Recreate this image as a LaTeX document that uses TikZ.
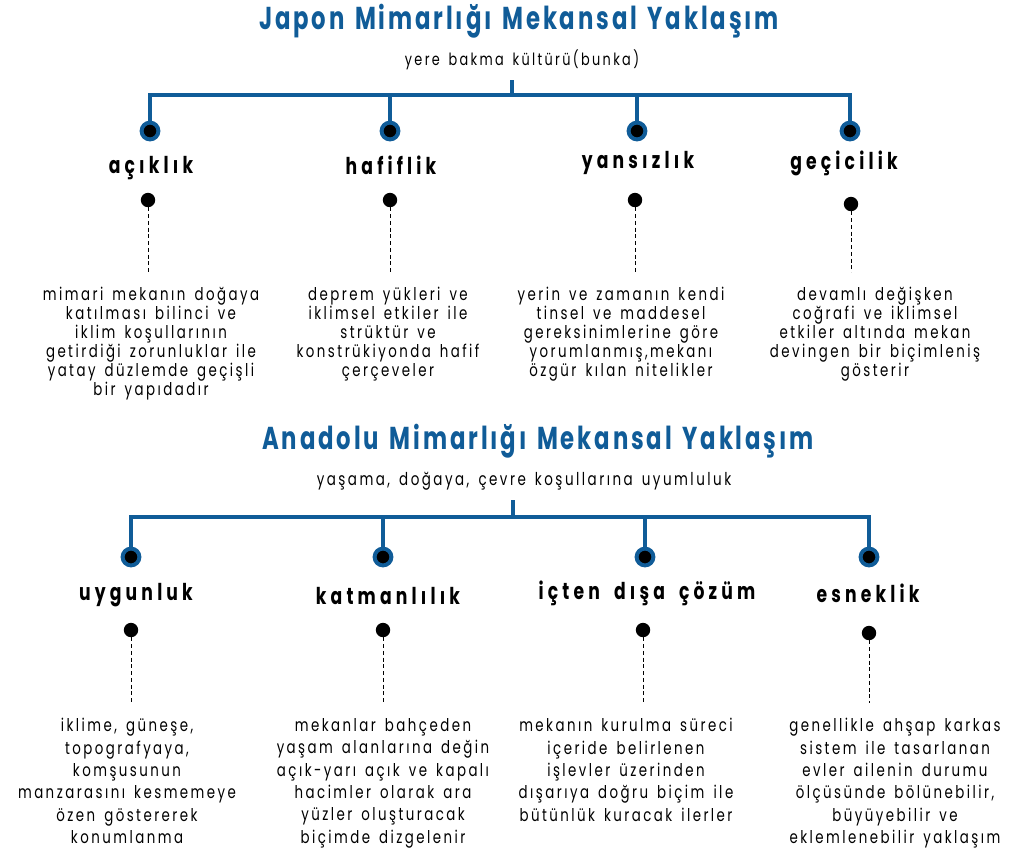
\documentclass[tikz,border=0pt]{standalone}
\usepackage{fontspec}
\setmainfont{Poppins}[FakeStretch=0.76,LetterSpace=14,WordSpace=1.5]
\newfontfamily\headfont{Poppins}[FakeStretch=0.72,LetterSpace=9,WordSpace=1.4]
\newfontfamily\aspectfont{Poppins}[FakeStretch=0.74,LetterSpace=18,WordSpace=1.8]
\definecolor{archblue}{RGB}{16,92,152}

\tikzset{
  maintitle/.style={font=\headfont\bfseries\fontsize{22.5}{26}\selectfont,text=archblue,inner sep=0},
  subline/.style={font=\fontsize{12}{14}\selectfont,inner sep=0},
  hub/.style={circle,fill=black,draw=archblue,line width=2.8pt,minimum size=0.42cm,inner sep=0},
  pin/.style={circle,fill=black,minimum size=0.36cm,inner sep=0},
  aspect/.style={font=\aspectfont\bfseries\fontsize{16.5}{19}\selectfont,inner sep=0},
  note/.style={align=center,anchor=north,inner sep=0},
  notetop/.style={note,font=\fontsize{12.5}{13.5}\selectfont},
  notebot/.style={note,font=\fontsize{12.5}{15.9}\selectfont},
  trunk/.style={draw=archblue,line width=2.5pt},
  lead/.style={line width=0.7pt,dash pattern=on 2.8pt off 2pt}
}

\begin{document}
\begin{tikzpicture}[x=0.025cm,y=-0.025cm]
  \useasboundingbox (0,0) rectangle (1022,851);

  % --- Japanese tree ---
  \node[maintitle] (jtitle) at (519,21) {Japon Mimarlığı Mekansal Yaklaşım};
  \node[subline] (jsub) at (522,60) {yere bakma kültürü(bunka)};
  \coordinate (jroot) at (512,80);
  \coordinate (jbar) at (512,95);

  \node[hub] (j1) at (150,131) {};
  \node[hub] (j2) at (390,131) {};
  \node[hub] (j3) at (637,131) {};
  \node[hub] (j4) at (850,131) {};
  \draw[trunk] (jroot) -- (jbar);
  \draw[trunk] (j1) |- (jbar) -| (j4);
  \draw[trunk] (j2) -- (j2 |- jbar);
  \draw[trunk] (j3) -- (j3 |- jbar);

  \node[aspect] (j1h) at (151,168) {açıklık};
  \node[aspect] (j2h) at (391,165) {hafiflik};
  \node[aspect] (j3h) at (638,163) {yansızlık};
  \node[aspect] (j4h) at (844,163) {geçicilik};

  \node[pin] (j1d) at (148,200) {};
  \node[pin] (j2d) at (390,200) {};
  \node[pin] (j3d) at (635,200) {};
  \node[pin] (j4d) at (851,204) {};

  \node[notetop] (j1t) at (151,287) {mimari mekanın doğaya\\katılması bilinci ve\\iklim koşullarının\\getirdiği zorunluklar ile\\yatay düzlemde geçişli\\bir yapıdadır};
  \node[notetop] (j2t) at (388,287) {deprem yükleri ve\\iklimsel etkiler ile\\strüktür ve\\konstrükiyonda hafif\\çerçeveler};
  \node[notetop] (j3t) at (621,287) {yerin ve zamanın kendi\\tinsel ve maddesel\\gereksinimlerine göre\\yorumlanmış,mekanı\\özgür kılan nitelikler};
  \node[notetop] (j4t) at (875,287) {devamlı değişken\\coğrafi ve iklimsel\\etkiler altında mekan\\devingen bir biçimleniş\\gösterir};

  \foreach \k in {1,...,4}
    \draw[lead,shorten >=15\pgflinewidth] (j\k d) -- (j\k d |- j\k t.north);

  % --- Anatolian tree ---
  \node[maintitle] (atitle) at (538,441) {Anadolu Mimarlığı Mekansal Yaklaşım};
  \node[subline,font=\fontsize{12.6}{14}\selectfont] (asub) at (524,481) {yaşama, doğaya, çevre koşullarına uyumluluk};
  \coordinate (aroot) at (513,500);
  \coordinate (abar) at (513,517);

  \node[hub] (a1) at (131,557) {};
  \node[hub] (a2) at (383,557) {};
  \node[hub] (a3) at (645,557) {};
  \node[hub] (a4) at (869,557) {};
  \draw[trunk] (aroot) -- (abar);
  \draw[trunk] (a1) |- (abar) -| (a4);
  \draw[trunk] (a2) -- (a2 |- abar);
  \draw[trunk] (a3) -- (a3 |- abar);

  \node[aspect] (a1h) at (136,595) {uygunluk};
  \node[aspect] (a2h) at (388,596) {katmanlılık};
  \node[aspect] (a3h) at (647,593) {içten dışa çözüm};
  \node[aspect] (a4h) at (868,593) {esneklik};

  \node[pin] (a1d) at (131,630) {};
  \node[pin] (a2d) at (383,630) {};
  \node[pin] (a3d) at (643,630) {};
  \node[pin] (a4d) at (869,633) {};

  \node[notebot] (a1t) at (127,718) {iklime, güneşe,\\topografyaya,\\komşusunun\\manzarasını kesmemeye\\özen göstererek\\konumlanma};
  \node[notebot] (a2t) at (383,718) {mekanlar bahçeden\\yaşam alanlarına değin\\açık-yarı açık ve kapalı\\hacimler olarak ara\\yüzler oluşturacak\\biçimde dizgelenir};
  \node[notebot] (a3t) at (626,718) {mekanın kurulma süreci\\içeride belirlenen\\işlevler üzerinden\\dışarıya doğru biçim ile\\bütünlük kuracak ilerler};
  \node[notebot] (a4t) at (895,718) {genellikle ahşap karkas\\sistem ile tasarlanan\\evler ailenin durumu\\ölçüsünde bölünebilir,\\büyüyebilir ve\\eklemlenebilir yaklaşım};

  \foreach \k in {1,...,4}
    \draw[lead,shorten >=15\pgflinewidth] (a\k d) -- (a\k d |- a\k t.north);
\end{tikzpicture}
\end{document}
